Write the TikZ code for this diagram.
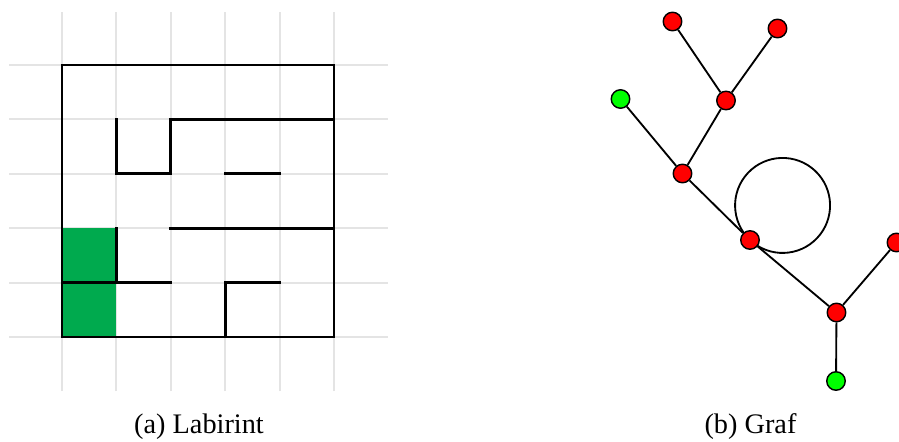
\documentclass[tikz,border=0pt]{standalone}
\usepackage{fontspec}
\setmainfont{Liberation Serif}
\usetikzlibrary{positioning}
\usetikzlibrary{backgrounds}
\definecolor{mazegreen}{RGB}{0,170,78}
\definecolor{gridgray}{RGB}{228,228,228}
\tikzstyle{gridline} = [color=gridgray,line width=1.1pt]
\tikzstyle{wall} = [line width=1.7pt,line cap=rect]
\tikzstyle{link} = [line width=1.05pt]
\tikzstyle{caption} = [anchor=base,font=\fontsize{16.1}{19}\selectfont]

\begin{document}
\begin{tikzpicture}[
      cell node/.style={circle,draw=black,line width=0.8pt,minimum size=0.37cm,inner sep=0pt},
      red node/.style={cell node,fill=red},
      green node/.style={cell node,fill=green}]
  \useasboundingbox (0,0) rectangle (17.98,8.82);

  % labirint
  \begin{scope}[shift={(1.24,2.08)},x=1.088cm,y=1.088cm]
    \foreach \i in {0,...,5}{\draw[gridline] (\i,-1) -- (\i,5.97);}
    \foreach \i in {0,...,5}{\draw[gridline] (-0.97,\i) -- (5.99,\i);}
    \fill[mazegreen] (0,0) rectangle (1,2);
    \draw[wall] (0,0) rectangle (5,5);
    \draw[wall] (1,4) -- (1,3) -- (2,3) -- (2,4) -- (5,4);
    \draw[wall] (3,3) -- (4,3);
    \draw[wall] (2,2) -- (5,2);
    \draw[wall] (1,2) -- (1,1);
    \draw[wall] (0,1) -- (2,1);
    \draw[wall] (3,0) -- (3,1) -- (4,1);
  \end{scope}

  % graf
  \node[red node] (A) at (13.45,8.39) {};
  \node[red node] (B) at (15.55,8.25) {};
  \node[red node] (C) at (14.52,6.81) {};
  \node[green node] (S) at (12.41,6.84) {};
  \node[red node] (D) at (13.65,5.35) {};
  \node[red node] (E) at (15.00,4.02) {};
  \node[red node] (F) at (17.93,3.97) {};
  \node[red node] (H) at (16.73,2.57) {};
  \node[green node] (T) at (16.72,1.20) {};

  \begin{pgfonlayer}{background}
    \path[link]
    (A) edge (C)
    (B) edge (C)
    (C) edge (D)
    (S) edge (D)
    (D) edge (E)
    (E) edge (H)
    (F) edge (H)
    (H) edge (T);
    \draw[link] (E.center) arc[start angle=226.7,delta angle=360,radius=0.95];
  \end{pgfonlayer}

  \node[caption] (CA) at (3.98,0.16) {(a) Labirint};
  \node[caption] (CB) at (15.01,0.16) {(b) Graf};
\end{tikzpicture}
\end{document}
